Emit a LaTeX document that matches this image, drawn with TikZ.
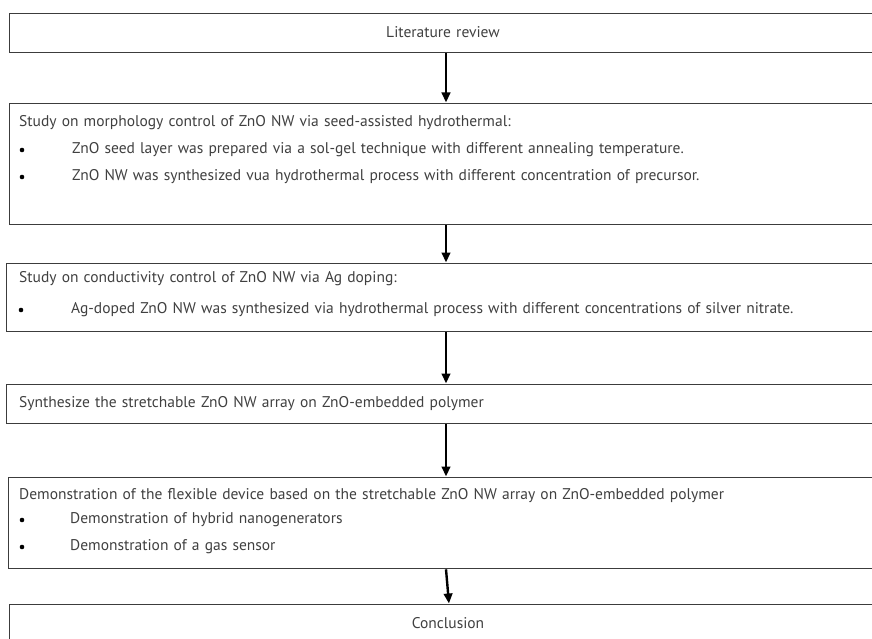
\documentclass[tikz,border=0pt]{standalone}
\usepackage{fontspec}
\setmainfont{PT Sans}[WordSpace=1.25]
\usetikzlibrary{arrows.meta}
\definecolor{txt}{HTML}{404040}
\definecolor{edge}{HTML}{3C3C3C}
\tikzset{
  stagebox/.style={draw=edge, line width=1.3pt, fill=white, anchor=north west, inner sep=0pt, minimum width=890pt},
  lbl/.style={anchor=west, inner sep=0pt, text=txt, font=\fontsize{15.5}{18}\selectfont},
  clbl/.style={inner sep=0pt, text=txt, font=\fontsize{15.5}{18}\selectfont},
  dot/.style={circle, fill=black, inner sep=0pt, minimum size=4.6pt},
  flow/.style={draw=black, line width=2.4pt, -{Triangle[length=10pt,width=8.5pt]}, shorten >=0.5pt}
}
\begin{document}
\begin{tikzpicture}[x=1pt,y=-1pt]
\useasboundingbox (0,0) rectangle (872,639);
\fill[white] (0,0) rectangle (872,639);
% boxes
\node[stagebox, minimum height=39pt] (b1) at (9,13) {};
\node[stagebox, minimum height=121pt] (b2) at (9,103) {};
\node[stagebox, minimum height=68pt] (b3) at (6,263) {};
\node[stagebox, minimum height=39pt] (b4) at (6,384) {};
\node[stagebox, minimum height=91pt] (b5) at (8,477) {};
\node[stagebox, minimum height=60pt] (b6) at (9,604) {};
% texts
\node[clbl] (t1) at (443,32) {Literature review};
\node[lbl] (t2) at (19,123) {Study on morphology control of ZnO NW via seed-assisted hydrothermal:};
\node[dot] (d21) at (22,150) {};
\node[lbl] (t21) at (72,150) {ZnO seed layer was prepared via a sol-gel technique with different annealing temperature.};
\node[dot] (d22) at (22,177) {};
\node[lbl] (t22) at (72,177) {ZnO NW was synthesized vua hydrothermal process with different concentration of precursor.};
\node[lbl] (t3) at (19,279) {Study on conductivity control of ZnO NW via Ag doping:};
\node[dot] (d31) at (21,310) {};
\node[lbl] (t31) at (71,310) {Ag-doped ZnO NW was synthesized via hydrothermal process with different concentrations of silver nitrate.};
\node[lbl] (t4) at (19,404) {Synthesize the stretchable ZnO NW array on ZnO-embedded polymer};
\node[lbl] (t5) at (19,496) {Demonstration of the flexible device based on the stretchable ZnO NW array on ZnO-embedded polymer};
\node[dot] (d51) at (22,520) {};
\node[lbl] (t51) at (70,520) {Demonstration of hybrid nanogenerators};
\node[dot] (d52) at (22,547) {};
\node[lbl] (t52) at (70,547) {Demonstration of a gas sensor};
\node[clbl] (t6) at (448,623) {Conclusion};
% arrows
\coordinate (ax) at (446,0);
\coordinate (ax2) at (449,0);
\draw[flow] (b1.south -| ax) -- (b2.north -| ax);
\draw[flow] (b2.south -| ax) -- (b3.north -| ax);
\draw[flow] (b3.south -| ax) -- (b4.north -| ax);
\draw[flow] (b4.south -| ax) -- (b5.north -| ax);
\draw[flow] (b5.south -| ax) -- (b6.north -| ax2);
\end{tikzpicture}
\end{document}
